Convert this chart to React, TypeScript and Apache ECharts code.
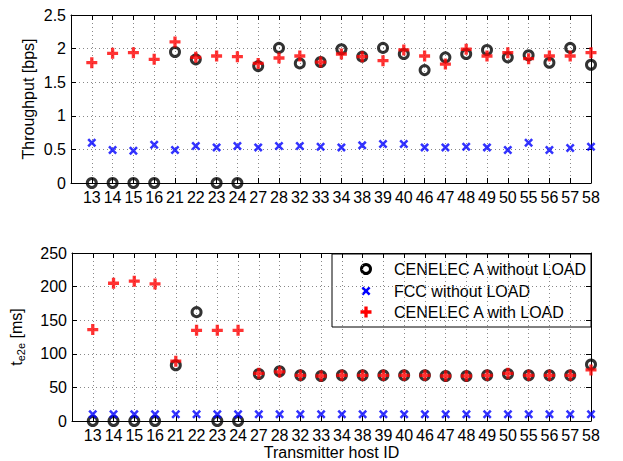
import React, { useEffect, useRef } from "react";
import * as echarts from "echarts";

const hostIds = ["13","14","15","16","21","22","23","24","27","28","32","33","34","38","39","40","46","47","48","49","50","55","56","57","58"];

const thrCenelecNoLoad = [0,0,0,0,1.95,1.84,0,0,1.74,2.01,1.78,1.80,1.99,1.88,2.01,1.92,1.68,1.87,1.92,1.98,1.87,1.90,1.79,2.01,1.76];
const thrFccNoLoad = [0.60,0.49,0.48,0.57,0.49,0.55,0.53,0.55,0.53,0.55,0.55,0.54,0.53,0.56,0.58,0.58,0.53,0.53,0.54,0.53,0.49,0.60,0.49,0.52,0.54];
const thrCenelecLoad = [1.79,1.93,1.94,1.84,2.10,1.87,1.89,1.88,1.78,1.86,1.89,1.80,1.92,1.88,1.82,1.98,1.89,1.77,1.99,1.89,1.94,1.85,1.89,1.89,1.94];

const delayCenelecNoLoad = [0,0,0,0,83,162,0,0,70,74,68,67,68,68,68,68,68,67,67,68,70,68,68,68,84];
const delayFccNoLoad = [10,10,10,10,10,10,10,10,10,10,10,10,10,10,10,10,10,10,10,10,10,10,10,10,10];
const delayCenelecLoad = [136,205,208,204,89,135,135,135,71,73,68,67,68,68,68,68,68,67,67,68,71,68,68,68,76];

const legendNames = ["CENELEC A without LOAD", "FCC without LOAD", "CENELEC A with LOAD"];

const FONT = "'Liberation Sans', Arial, Helvetica, sans-serif";
const PLUS = "path://M3.5,0H6.5V3.5H10V6.5H6.5V10H3.5V6.5H0V3.5H3.5Z";
const CROSS = "path://M0,2L2,0L5,3L8,0L10,2L7,5L10,8L8,10L5,7L2,10L0,8L3,5Z";

const toPts = (vals: number[]) => vals.map((v, i) => [i + 1, v]);

export default function App() {
  const ref = useRef<HTMLDivElement>(null);
  useEffect(() => {
    if (!ref.current) return;
    const chart = echarts.init(ref.current, null, { renderer: "svg" });
    const grids = [
      { left: 71, top: 15, width: 520, height: 168 },
      { left: 71, top: 253, width: 520, height: 169 },
    ];
    const gridLine = { show: true, lineStyle: { color: "#888", type: [1, 3] as any, width: 1 } };
    const mkX = (gi: number, withName: boolean) => ({
      type: "value" as const,
      gridIndex: gi,
      min: 0,
      max: 25,
      interval: 1,
      position: "bottom" as const,
      axisLine: { show: true, onZero: false, lineStyle: { color: "#000", width: 1 } },
      axisTick: { show: true, inside: true, length: 5, lineStyle: { color: "#000" } },
      axisLabel: {
        show: true,
        margin: 6,
        fontSize: 16,
        fontFamily: FONT,
        color: "#000",
        showMinLabel: true,
        showMaxLabel: true,
        formatter: (v: number) => (v >= 1 && v <= 25 ? hostIds[Math.round(v) - 1] : ""),
      },
      splitLine: gridLine,
      name: withName ? "Transmitter host ID" : "",
      nameLocation: "middle" as const,
      nameGap: 23,
      nameMoveOverlap: false,
      nameTextStyle: { fontSize: 16, fontFamily: FONT, color: "#000" },
    });
    const mkXTop = (gi: number) => ({
      type: "value" as const,
      gridIndex: gi,
      min: 0,
      max: 25,
      interval: 1,
      position: "top" as const,
      axisLine: { show: true, onZero: false, lineStyle: { color: "#000", width: 1 } },
      axisTick: { show: true, inside: true, length: 5, lineStyle: { color: "#000" } },
      axisLabel: { show: false },
      splitLine: { show: false },
    });
    const mkY = (gi: number, max: number, interval: number, name: any, rich?: any, nameGap = 35) => ({
      type: "value" as const,
      gridIndex: gi,
      min: 0,
      max,
      interval,
      position: "left" as const,
      axisLine: { show: true, onZero: false, lineStyle: { color: "#000", width: 1 } },
      axisTick: { show: true, inside: true, length: 5, lineStyle: { color: "#000" } },
      axisLabel: { margin: 5, fontSize: 16, fontFamily: FONT, color: "#000" },
      splitLine: gridLine,
      name,
      nameLocation: "middle" as const,
      nameGap,
      nameMoveOverlap: false,
      nameTextStyle: { fontSize: 16, fontFamily: FONT, color: "#000", rich },
    });
    const mkYRight = (gi: number, max: number, interval: number) => ({
      type: "value" as const,
      gridIndex: gi,
      min: 0,
      max,
      interval,
      position: "right" as const,
      axisLine: { show: true, onZero: false, lineStyle: { color: "#000", width: 1 } },
      axisTick: { show: true, inside: true, length: 5, lineStyle: { color: "#000" } },
      axisLabel: { show: false },
      splitLine: { show: false },
    });

    const circleSeries = (xi: number, yi: number, vals: number[]) => ({
      type: "scatter" as const,
      name: legendNames[0],
      xAxisIndex: xi,
      yAxisIndex: yi,
      data: toPts(vals),
      symbol: "circle",
      symbolSize: 9,
      clip: false,
      z: 3,
      itemStyle: { color: "rgba(0,0,0,0)", borderColor: "#000", borderWidth: 3 },
    });
    const crossSeries = (xi: number, yi: number, vals: number[]) => ({
      type: "scatter" as const,
      name: legendNames[1],
      xAxisIndex: xi,
      yAxisIndex: yi,
      data: toPts(vals),
      symbol: CROSS,
      symbolSize: 9,
      clip: false,
      z: 4,
      itemStyle: { color: "#0000ff" },
    });
    const plusSeries = (xi: number, yi: number, vals: number[]) => ({
      type: "scatter" as const,
      name: legendNames[2],
      xAxisIndex: xi,
      yAxisIndex: yi,
      data: toPts(vals),
      symbol: PLUS,
      symbolSize: 11,
      clip: false,
      z: 5,
      itemStyle: { color: "#ff0000" },
    });

    const lx = 332, ly = 254, lw = 259, lh = 73;
    const symX = 366, txtX = 394;
    const rows = [269, 291, 312];
    const plusPts = (cx: number, cy: number, s: number) => {
      const h = s / 2, t = s * 0.15;
      return [[cx - t, cy - h], [cx + t, cy - h], [cx + t, cy - t], [cx + h, cy - t], [cx + h, cy + t], [cx + t, cy + t], [cx + t, cy + h], [cx - t, cy + h], [cx - t, cy + t], [cx - h, cy + t], [cx - h, cy - t], [cx - t, cy - t]];
    };
    const crossPts = (cx: number, cy: number, s: number) => {
      const raw = [[0, 2], [2, 0], [5, 3], [8, 0], [10, 2], [7, 5], [10, 8], [8, 10], [5, 7], [2, 10], [0, 8], [3, 5]];
      return raw.map(([x, y]) => [cx + ((x - 5) * s) / 10, cy + ((y - 5) * s) / 10]);
    };

    chart.setOption({
      animation: false,
      backgroundColor: "#fff",
      grid: grids,
      xAxis: [mkX(0, false), mkX(1, true), mkXTop(0), mkXTop(1)],
      yAxis: [
        mkY(0, 2.5, 0.5, "Throughput [bps]", undefined, 35),
        mkY(1, 250, 50, "{a|t}{b|e2e}{a| [ms]}", {
          a: { fontSize: 16, fontFamily: FONT, color: "#000" },
          b: { fontSize: 11, fontFamily: FONT, color: "#000", padding: [9, 0, 0, 0] },
        }, 46),
        mkYRight(0, 2.5, 0.5),
        mkYRight(1, 250, 50),
      ],
      series: [
        circleSeries(0, 0, thrCenelecNoLoad),
        crossSeries(0, 0, thrFccNoLoad),
        plusSeries(0, 0, thrCenelecLoad),
        circleSeries(1, 1, delayCenelecNoLoad),
        crossSeries(1, 1, delayFccNoLoad),
        plusSeries(1, 1, delayCenelecLoad),
      ],
      graphic: [
        {
          type: "group",
          z: 100,
          children: [
            { type: "rect", shape: { x: lx, y: ly, width: lw, height: lh }, style: { fill: "#fff", stroke: "#000", lineWidth: 1 } },
            { type: "circle", shape: { cx: symX, cy: rows[0], r: 4.5 }, style: { fill: "none", stroke: "#000", lineWidth: 3 } },
            { type: "polygon", shape: { points: crossPts(symX, rows[1], 9) }, style: { fill: "#0000ff" } },
            { type: "polygon", shape: { points: plusPts(symX, rows[2], 11) }, style: { fill: "#ff0000" } },
            ...legendNames.map((n, i) => ({
              type: "text",
              style: { x: txtX, y: rows[i], text: n, fontSize: 16, fontFamily: FONT, fill: "#000", verticalAlign: "middle", align: "left" },
            })),
          ],
        },
      ],
    });
    return () => chart.dispose();
  }, []);
  return <div ref={ref} style={{ position: "absolute", left: 0, top: 0, width: 623, height: 461 }} />;
}
